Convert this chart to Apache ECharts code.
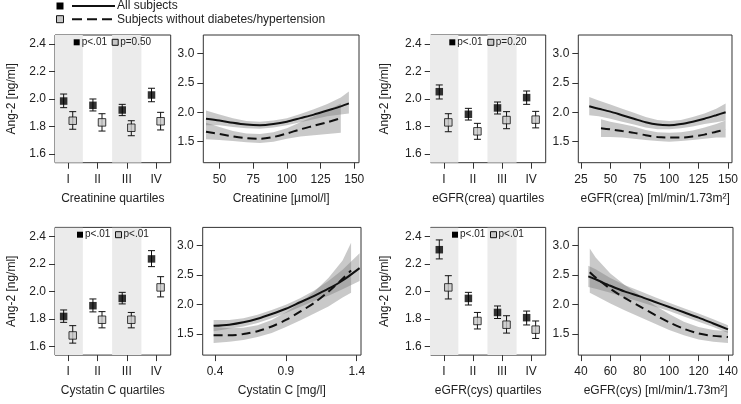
<!DOCTYPE html>
<html><head><meta charset="utf-8">
<script src="https://cdn.jsdelivr.net/npm/echarts@6/dist/echarts.min.js"></script>
<style>html,body{margin:0;padding:0;background:#fff}#c{width:741px;height:404px}</style>
</head><body><div id="c"></div>
<script>
// ---------------- DATA ----------------
const quartileLabels = ['I', 'II', 'III', 'IV'];
const quartileTicks = [1, 2, 3, 4];
const shadedQuartiles = [1, 3];
const angTicks = [1.6, 1.8, 2.0, 2.2, 2.4];
const curveYTicks = [1.5, 2.0, 2.5, 3.0];
const creaTicks = [50, 75, 100, 125, 150];
const egfrCreaTicks = [25, 50, 75, 100, 125, 150];
const cysTicks = [0.4, 0.9, 1.4];
const egfrCysTicks = [40, 60, 80, 100, 120, 140];

// Creatinine quartiles
const creaQAll = [1.985, 1.954, 1.920, 2.029];
const creaQAllLo = [1.937, 1.913, 1.879, 1.980];
const creaQAllHi = [2.036, 2.000, 1.961, 2.078];
const creaQSub = [1.842, 1.830, 1.791, 1.838];
const creaQSubLo = [1.780, 1.767, 1.733, 1.775];
const creaQSubHi = [1.908, 1.893, 1.842, 1.903];
// eGFR(crea) quartiles
const egfrCreaQAll = [2.053, 1.889, 1.935, 2.010];
const egfrCreaQAllLo = [2.000, 1.847, 1.891, 1.961];
const egfrCreaQAllHi = [2.102, 1.932, 1.978, 2.058];
const egfrCreaQSub = [1.830, 1.765, 1.847, 1.850];
const egfrCreaQSubLo = [1.762, 1.707, 1.784, 1.790];
const egfrCreaQSubHi = [1.893, 1.823, 1.908, 1.910];
// Cystatin C quartiles
const cysQAll = [1.818, 1.896, 1.949, 2.236];
const cysQAllLo = [1.775, 1.851, 1.909, 2.180];
const cysQAllHi = [1.865, 1.945, 1.993, 2.296];
const cysQSub = [1.680, 1.794, 1.794, 2.029];
const cysQSubLo = [1.624, 1.735, 1.735, 1.960];
const cysQSubHi = [1.751, 1.853, 1.847, 2.107];
// eGFR(cys) quartiles
const egfrCysQAll = [2.303, 1.949, 1.847, 1.809];
const egfrCysQAllLo = [2.236, 1.901, 1.803, 1.756];
const egfrCysQAllHi = [2.374, 1.993, 1.894, 1.857];
const egfrCysQSub = [2.029, 1.785, 1.758, 1.722];
const egfrCysQSubLo = [1.945, 1.727, 1.697, 1.658];
const egfrCysQSubHi = [2.114, 1.847, 1.823, 1.785];

// Creatinine curves
const creaXAll = [40, 50, 60, 70, 80, 90, 100, 110, 120, 130, 140, 146];
const creaFitAll = [1.89, 1.86, 1.82, 1.79, 1.78, 1.80, 1.84, 1.90, 1.96, 2.03, 2.10, 2.15];
const creaLoAll = [1.78, 1.78, 1.75, 1.73, 1.72, 1.74, 1.78, 1.83, 1.88, 1.93, 1.96, 1.98];
const creaHiAll = [2.03, 1.96, 1.90, 1.85, 1.84, 1.86, 1.90, 1.97, 2.05, 2.14, 2.25, 2.35];
const creaXSub = [40, 50, 60, 70, 80, 90, 100, 110, 120, 130, 140];
const creaFitSub = [1.67, 1.63, 1.59, 1.56, 1.55, 1.58, 1.64, 1.71, 1.77, 1.83, 1.90];
const creaLoSub = [1.54, 1.53, 1.51, 1.49, 1.48, 1.50, 1.55, 1.59, 1.61, 1.63, 1.65];
const creaHiSub = [1.82, 1.75, 1.68, 1.64, 1.63, 1.66, 1.73, 1.83, 1.93, 2.03, 2.15];
// eGFR(crea) curves
const egfrCreaXAll = [32, 40, 50, 60, 70, 80, 90, 100, 110, 120, 130, 140, 148];
const egfrCreaFitAll = [2.10, 2.06, 2.01, 1.95, 1.89, 1.83, 1.79, 1.78, 1.80, 1.84, 1.89, 1.95, 2.00];
const egfrCreaLoAll = [1.95, 1.93, 1.89, 1.84, 1.79, 1.74, 1.71, 1.71, 1.73, 1.76, 1.80, 1.83, 1.86];
const egfrCreaHiAll = [2.26, 2.20, 2.13, 2.06, 1.99, 1.92, 1.87, 1.85, 1.87, 1.92, 1.98, 2.06, 2.15];
const egfrCreaXSub = [42, 50, 60, 70, 80, 90, 100, 110, 120, 130, 140, 148];
const egfrCreaFitSub = [1.73, 1.71, 1.68, 1.65, 1.61, 1.58, 1.57, 1.57, 1.59, 1.62, 1.67, 1.71];
const egfrCreaLoSub = [1.58, 1.58, 1.57, 1.55, 1.53, 1.51, 1.50, 1.51, 1.53, 1.55, 1.57, 1.57];
const egfrCreaHiSub = [1.88, 1.84, 1.80, 1.76, 1.70, 1.66, 1.65, 1.66, 1.69, 1.74, 1.80, 1.86];
// Cystatin C curves
const cysXAll = [0.39, 0.5, 0.6, 0.7, 0.8, 0.9, 1.0, 1.1, 1.2, 1.3, 1.42];
const cysFitAll = [1.64, 1.66, 1.70, 1.76, 1.84, 1.93, 2.04, 2.15, 2.27, 2.41, 2.62];
const cysLoAll = [1.55, 1.59, 1.63, 1.69, 1.77, 1.86, 1.96, 2.06, 2.15, 2.26, 2.40];
const cysHiAll = [1.74, 1.74, 1.77, 1.83, 1.91, 2.00, 2.11, 2.24, 2.40, 2.59, 2.87];
const cysXSub = [0.39, 0.5, 0.6, 0.7, 0.8, 0.9, 1.0, 1.1, 1.2, 1.3, 1.36];
const cysFitSub = [1.48, 1.48, 1.50, 1.55, 1.63, 1.74, 1.88, 2.03, 2.22, 2.44, 2.58];
const cysLoSub = [1.35, 1.37, 1.40, 1.45, 1.52, 1.62, 1.73, 1.85, 1.97, 2.12, 2.20];
const cysHiSub = [1.62, 1.60, 1.61, 1.65, 1.74, 1.87, 2.03, 2.22, 2.45, 2.75, 3.05];
// eGFR(cys) curves
const egfrCysXAll = [45, 50, 60, 70, 80, 90, 100, 110, 120, 130, 140];
const egfrCysFitAll = [2.48, 2.43, 2.32, 2.22, 2.14, 2.05, 1.96, 1.87, 1.78, 1.68, 1.58];
const egfrCysLoAll = [2.30, 2.27, 2.20, 2.12, 2.05, 1.97, 1.89, 1.80, 1.71, 1.62, 1.52];
const egfrCysHiAll = [2.66, 2.60, 2.45, 2.33, 2.23, 2.13, 2.03, 1.94, 1.85, 1.75, 1.65];
const egfrCysXSub = [46, 50, 60, 70, 80, 90, 100, 110, 120, 130, 140];
const egfrCysFitSub = [2.55, 2.46, 2.27, 2.11, 1.97, 1.83, 1.70, 1.59, 1.51, 1.47, 1.45];
const egfrCysLoSub = [2.20, 2.15, 2.02, 1.90, 1.79, 1.68, 1.57, 1.48, 1.41, 1.37, 1.35];
const egfrCysHiSub = [2.95, 2.80, 2.53, 2.33, 2.16, 1.99, 1.84, 1.71, 1.62, 1.57, 1.55];

const legendAll = 'All subjects';
const legendSub = 'Subjects without diabetes/hypertension';
const yTitle = 'Ang-2 [ng/ml]';

// ---------------- LAYOUT / STYLE ----------------
const FONT = '"Liberation Sans", Arial, Helvetica, sans-serif';
const TXT = '#222';
const BAND = 'rgba(120,120,120,0.40)';
const QSHADE = '#ebebeb';
const GRAYSQ = '#c8c8c8';
const DX = 0.155;

const chart = echarts.init(document.getElementById('c'), null, {renderer: 'canvas'});
const grids = [], xAxes = [], yAxes = [], series = [], graphics = [];

function addGrid(r) {
  grids.push({left: r.left, top: r.top, width: r.width, height: r.height, show: true,
    borderColor: '#333', borderWidth: 1, backgroundColor: 'transparent', containLabel: false});
  return grids.length - 1;
}
function axisCommon(ticks, fmt, margin) {
  return {
    axisLine: {show: false}, splitLine: {show: false},
    axisTick: {show: true, length: 6, lineStyle: {color: '#333', width: 1}, customValues: ticks},
    axisLabel: {customValues: ticks, formatter: fmt, fontSize: 12, color: TXT, fontFamily: FONT, margin: margin}
  };
}

function quartilePanel(r, title, qAll, qAllLo, qAllHi, qSub, qSubLo, qSubHi, pAll, pSub, legOffset) {
  const g = addGrid(r);
  xAxes.push(Object.assign({gridIndex: g, type: 'value', min: 0.55, max: 4.5,
    name: title, nameLocation: 'middle', nameGap: 30,
    nameTextStyle: {fontSize: 12, color: TXT, fontFamily: FONT}},
    axisCommon(quartileTicks, v => quartileLabels[Math.round(v) - 1], 11)));
  yAxes.push(Object.assign({gridIndex: g, type: 'value', min: 1.537, max: 2.465,
    name: yTitle, nameLocation: 'middle', nameRotate: 90, nameGap: r.yNameGap,
    nameTextStyle: {fontSize: 12, color: TXT, fontFamily: FONT}},
    axisCommon(angTicks, v => v.toFixed(1), 9)));
  // shaded quartile columns
  series.push({type: 'custom', xAxisIndex: g, yAxisIndex: g, clip: true, z: 1, silent: true,
    data: shadedQuartiles.map(q => [q]),
    renderItem: (params, api) => {
      const q = api.value(0);
      const cs = params.coordSys;
      const x0 = api.coord([q - 0.5, 2])[0], x1 = api.coord([q + 0.5, 2])[0];
      return {type: 'rect', shape: {x: x0, y: cs.y, width: x1 - x0, height: cs.height},
        style: {fill: QSHADE}};
    }});
  const errRender = (params, api) => {
    const x = api.value(0);
    const p0 = api.coord([x, api.value(1)]), p1 = api.coord([x, api.value(2)]);
    const w = 3.5, st = {stroke: '#111', lineWidth: 1};
    return {type: 'group', children: [
      {type: 'line', shape: {x1: p0[0], y1: p0[1], x2: p1[0], y2: p1[1]}, style: st},
      {type: 'line', shape: {x1: p0[0] - w, y1: p0[1], x2: p0[0] + w, y2: p0[1]}, style: st},
      {type: 'line', shape: {x1: p1[0] - w, y1: p1[1], x2: p1[0] + w, y2: p1[1]}, style: st}]};
  };
  series.push({type: 'custom', xAxisIndex: g, yAxisIndex: g, z: 3, silent: true, renderItem: errRender,
    encode: {x: 0, y: [1, 2]},
    data: quartileTicks.map((q, i) => [q - DX, qAllLo[i], qAllHi[i]])});
  series.push({type: 'custom', xAxisIndex: g, yAxisIndex: g, z: 3, silent: true, renderItem: errRender,
    encode: {x: 0, y: [1, 2]},
    data: quartileTicks.map((q, i) => [q + DX, qSubLo[i], qSubHi[i]])});
  series.push({type: 'scatter', xAxisIndex: g, yAxisIndex: g, z: 4, symbol: 'rect', symbolSize: 7.5,
    itemStyle: {color: '#000'}, silent: true,
    data: quartileTicks.map((q, i) => [q - DX, qAll[i]])});
  series.push({type: 'scatter', xAxisIndex: g, yAxisIndex: g, z: 4, symbol: 'rect', symbolSize: 7.5,
    itemStyle: {color: GRAYSQ, borderColor: '#111', borderWidth: 1}, silent: true,
    data: quartileTicks.map((q, i) => [q + DX, qSub[i]])});
  // in-panel legend
  const ly = r.top + 7.3, lx = r.left + legOffset;
  graphics.push({type: 'rect', z: 100, shape: {x: lx - 3, y: ly - 3, width: 6, height: 6}, style: {fill: '#000'}});
  graphics.push({type: 'text', z: 100, x: lx + 5, y: ly, style: {text: pAll, fontSize: 10, fill: TXT, fontFamily: FONT, verticalAlign: 'middle'}});
  graphics.push({type: 'rect', z: 100, shape: {x: lx + 35.5, y: ly - 3, width: 6, height: 6}, style: {fill: GRAYSQ, stroke: '#111', lineWidth: 1}});
  graphics.push({type: 'text', z: 100, x: lx + 43.5, y: ly, style: {text: pSub, fontSize: 10, fill: TXT, fontFamily: FONT, verticalAlign: 'middle'}});
}

// confidence band: one polygon through upper edge then lower edge (reversed), via axis coords
function bandSeries(g, xs, lo, hi) {
  series.push({type: 'custom', xAxisIndex: g, yAxisIndex: g, clip: true, z: 1, silent: true,
    encode: {x: 0, y: [1, 2]},
    data: xs.map((x, i) => [x, lo[i], hi[i]]),
    renderItem: (params, api) => {
      if (params.dataIndex !== 0) return null;
      const up = xs.map((x, i) => api.coord([x, hi[i]]));
      const dn = xs.map((x, i) => api.coord([x, lo[i]])).reverse();
      return {type: 'polygon', shape: {points: up.concat(dn)}, style: {fill: BAND}};
    }});
}

function curvePanel(r, title, ticks, xmin, xmax, xa, fa, la, ha, xs, fs, ls, hs) {
  const g = addGrid(r);
  xAxes.push(Object.assign({gridIndex: g, type: 'value', min: xmin, max: xmax,
    name: title, nameLocation: 'middle', nameGap: 30,
    nameTextStyle: {fontSize: 12, color: TXT, fontFamily: FONT}},
    axisCommon(ticks, v => String(v), 11)));
  yAxes.push(Object.assign({gridIndex: g, type: 'value', min: 1.144, max: 3.31},
    axisCommon(curveYTicks, v => v.toFixed(1), 9)));
  bandSeries(g, xa, la, ha);
  bandSeries(g, xs, ls, hs);
  series.push({type: 'line', xAxisIndex: g, yAxisIndex: g, smooth: 0.3, symbol: 'none', z: 2, clip: true,
    lineStyle: {color: '#111', width: 2}, silent: true, data: xa.map((x, i) => [x, fa[i]])});
  series.push({type: 'line', xAxisIndex: g, yAxisIndex: g, smooth: 0.3, symbol: 'none', z: 2, clip: true,
    lineStyle: {color: '#111', width: 2, type: [9, 5]}, silent: true, data: xs.map((x, i) => [x, fs[i]])});
}

const topY = 35, botY = 227.4, H = 127.7;
quartilePanel({left: 55, top: topY, width: 115.7, height: H, yNameGap: 37}, 'Creatinine quartiles',
  creaQAll, creaQAllLo, creaQAllHi, creaQSub, creaQSubLo, creaQSubHi, 'p<.01', 'p=0.50', 21.7);
curvePanel({left: 203.3, top: topY, width: 155.7, height: H}, 'Creatinine [µmol/l]', creaTicks, 38, 153.5,
  creaXAll, creaFitAll, creaLoAll, creaHiAll, creaXSub, creaFitSub, creaLoSub, creaHiSub);
quartilePanel({left: 430.7, top: topY, width: 115, height: H, yNameGap: 40}, 'eGFR(crea) quartiles',
  egfrCreaQAll, egfrCreaQAllLo, egfrCreaQAllHi, egfrCreaQSub, egfrCreaQSubLo, egfrCreaQSubHi, 'p<.01', 'p=0.20', 21.6);
curvePanel({left: 578.3, top: topY, width: 155, height: H}, 'eGFR(crea) [ml/min/1.73m²]', egfrCreaTicks, 22.7, 153.4,
  egfrCreaXAll, egfrCreaFitAll, egfrCreaLoAll, egfrCreaHiAll, egfrCreaXSub, egfrCreaFitSub, egfrCreaLoSub, egfrCreaHiSub);
quartilePanel({left: 55, top: botY, width: 115.7, height: H, yNameGap: 37}, 'Cystatin C quartiles',
  cysQAll, cysQAllLo, cysQAllHi, cysQSub, cysQSubLo, cysQSubHi, 'p<.01', 'p<.01', 25);
curvePanel({left: 202.7, top: botY, width: 158.3, height: H}, 'Cystatin C [mg/l]', cysTicks, 0.313, 1.43,
  cysXAll, cysFitAll, cysLoAll, cysHiAll, cysXSub, cysFitSub, cysLoSub, cysHiSub);
quartilePanel({left: 430.7, top: botY, width: 115, height: H, yNameGap: 40}, 'eGFR(cys) quartiles',
  egfrCysQAll, egfrCysQAllLo, egfrCysQAllHi, egfrCysQSub, egfrCysQSubLo, egfrCysQSubHi, 'p<.01', 'p<.01', 24.3);
curvePanel({left: 578.3, top: botY, width: 155, height: H}, 'eGFR(cys) [ml/min/1.73m²]', egfrCysTicks, 38.2, 143.4,
  egfrCysXAll, egfrCysFitAll, egfrCysLoAll, egfrCysHiAll, egfrCysXSub, egfrCysFitSub, egfrCysLoSub, egfrCysHiSub);

// top legend
graphics.push({type: 'rect', z: 100, shape: {x: 56.5, y: 2.5, width: 7, height: 7}, style: {fill: '#000'}});
graphics.push({type: 'line', z: 100, shape: {x1: 72, y1: 6, x2: 115, y2: 6}, style: {stroke: '#111', lineWidth: 2}});
graphics.push({type: 'text', z: 100, x: 117, y: 6, style: {text: legendAll, fontSize: 12, fill: TXT, fontFamily: FONT, verticalAlign: 'middle'}});
graphics.push({type: 'rect', z: 100, shape: {x: 56.5, y: 15.7, width: 7, height: 7}, style: {fill: GRAYSQ, stroke: '#111', lineWidth: 1}});
graphics.push({type: 'line', z: 100, shape: {x1: 72, y1: 19.2, x2: 115, y2: 19.2}, style: {stroke: '#111', lineWidth: 2, lineDash: [10, 5]}});
graphics.push({type: 'text', z: 100, x: 117, y: 19.2, style: {text: legendSub, fontSize: 12, fill: TXT, fontFamily: FONT, verticalAlign: 'middle'}});

chart.setOption({
  animation: false,
  backgroundColor: '#fff',
  grid: grids, xAxis: xAxes, yAxis: yAxes, series: series,
  graphic: {elements: graphics}
});
</script></body></html>
